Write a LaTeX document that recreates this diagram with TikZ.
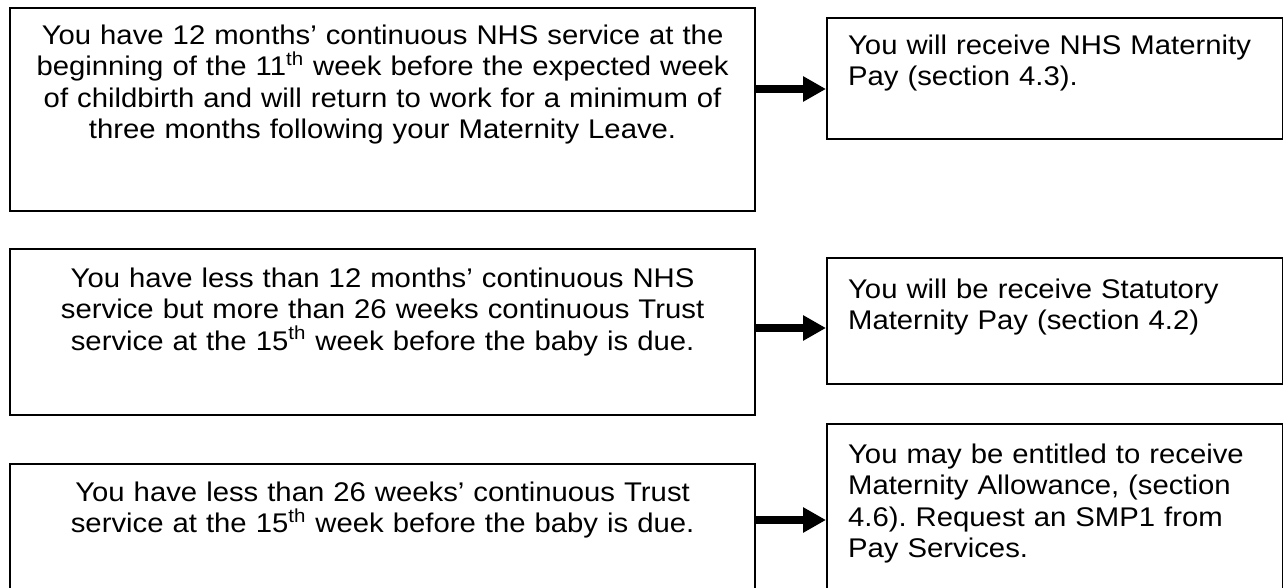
\documentclass[tikz,border=0pt]{standalone}
\usepackage{fontspec}
\setmainfont{Liberation Sans}[FakeStretch=1.085]
\usepackage{tikz}
\usetikzlibrary{arrows.meta,positioning}
\definecolor{ink}{HTML}{000000}
\frenchspacing
\tikzset{
  condbox/.style={draw=ink,line width=1.1pt,anchor=north west,inner sep=0pt,
                  text width=372.5pt,align=center,
                  font=\fontsize{13.5}{15.8}\selectfont},
  paybox/.style={draw=ink,line width=1.1pt,anchor=north west,
                 inner xsep=10.5pt,inner ysep=0pt,
                 text width=207pt,align=left,
                 font=\fontsize{13.5}{15.8}\selectfont},
  flowarr/.style={-{Triangle[length=11.5pt,width=12pt]},line width=4.2pt,draw=ink}
}

\begin{document}
\begin{tikzpicture}[x=0.5pt,y=-0.5pt]
  \useasboundingbox (0,0) rectangle (1283,588);
  \clip (0,0) rectangle (1283,588);
  % conditions
  \node[condbox,text height=18pt,text depth=83.5pt] (c1) at (9,7)
    {You have 12 months’ continuous NHS service at the\\
     beginning of the 11\textsuperscript{th} week before the expected week\\
     of childbirth and will return to work for a minimum of\\
     three months following your Maternity Leave.};
  \node[condbox,text height=19pt,text depth=64pt] (c2) at (9,248)
    {You have less than 12 months’ continuous NHS\\
     service but more than 26 weeks continuous Trust\\
     service at the 15\textsuperscript{th} week before the baby is due.};
  \node[condbox,text height=18.5pt,text depth=70pt] (c3) at (9,463)
    {You have less than 26 weeks’ continuous Trust\\
     service at the 15\textsuperscript{th} week before the baby is due.};
  % outcomes
  \node[paybox,text height=18pt,text depth=42.5pt] (p1) at (826,17)
    {You will receive NHS Maternity\\ Pay (section 4.3).};
  \node[paybox,text height=20pt,text depth=43pt] (p2) at (826,257)
    {You will be receive Statutory\\ Maternity Pay (section 4.2)};
  \node[paybox,text height=19.5pt,text depth=90pt] (p3) at (826,423)
    {You may be entitled to receive\\ Maternity Allowance, (section\\
     4.6). Request an SMP1 from\\ Pay Services.};
  \foreach \i/\y in {1/89,2/328,3/520}{
    \coordinate (a\i) at (0,\y);
    \draw[flowarr] (c\i.east |- a\i) -- (p\i.west |- a\i);
  }
\end{tikzpicture}
\end{document}
